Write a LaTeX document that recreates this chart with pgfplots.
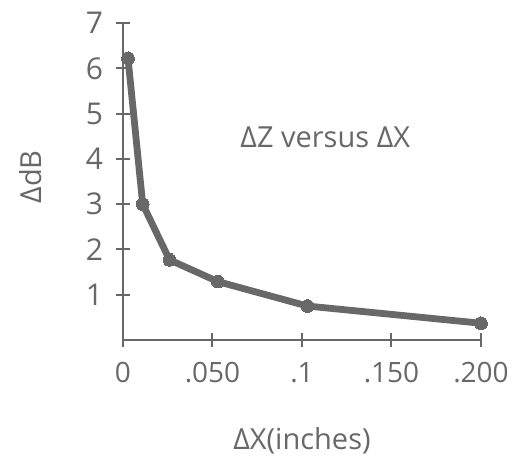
\documentclass[border=0pt]{standalone}
\usepackage{fontspec}
\setmainfont{Open Sans}
\usepackage{pgfplots}
\pgfplotsset{compat=1.18}
\definecolor{ink}{HTML}{686868}

\begin{document}
\begin{tikzpicture}
  \begin{axis}[
      scale only axis,
      width=179pt, height=158.5pt,
      xmin=0, xmax=0.2, ymin=0, ymax=7,
      axis lines=left,
      axis line style={ink, line width=1.2pt, -},
      every tick/.style={ink, line width=1pt},
      tick align=center,
      major tick length=7pt,
      xtick={0,0.05,0.1,0.15,0.2},
      xticklabels={0,.050,.1,.150,.200},
      ytick={1,2,3,4,5,6,7},
      yticklabels={1,2,3,4,5,6,7},
      /pgf/number format/assume math mode=true,
      tick label style={font=\fontsize{14}{16}\selectfont, text=ink},
      yticklabel style={xshift=-3pt, font=\fontsize{15}{17}\selectfont},
      xticklabel style={yshift=-4pt},
      label style={font=\fontsize{14.5}{16}\selectfont, text=ink},
      xlabel={ΔX(inches)},
      xlabel style={at={(rel axis cs:0.5,0)}, anchor=north, yshift=-40pt},
      clip=false,
    ]
    \addplot[ink, line width=3.4pt, mark=*, mark size=3.2pt,
             mark options={fill=ink, draw=ink, line width=0pt}]
      coordinates {(0.0028,6.22) (0.011,3.0) (0.026,1.77) (0.053,1.29) (0.103,0.75) (0.2,0.37)};
    \node[text=ink, font=\fontsize{14.5}{16}\selectfont] at (axis cs:0.113,4.48) {ΔZ versus ΔX};
    \node[rotate=90, text=ink, font=\fontsize{14.5}{16}\selectfont] at ([xshift=-46pt]axis cs:0,3.6) {ΔdB};
    \coordinate (o) at (axis cs:0,0);
  \end{axis}
  \pgfresetboundingbox
  \path ([shift={(-61.5pt,-58.5pt)}]o) rectangle ([shift={(198.5pt,170pt)}]o);
\end{tikzpicture}
\end{document}
